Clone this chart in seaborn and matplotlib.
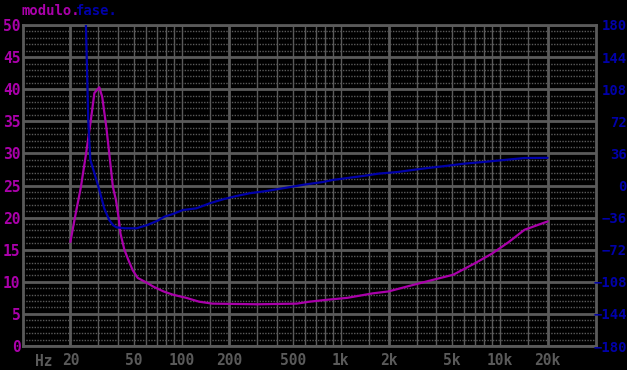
import numpy as np
import pandas as pd
import matplotlib
matplotlib.use('Agg')
import matplotlib.pyplot as plt
import seaborn as sns

# Curvas: modulo (escala esquerda) e fase (escala direita, graus)
freq_mod = [20, 21.2, 23.3, 25.1, 26.9, 28.3, 30.4, 31.7, 33.6, 35.1,
            37.0, 38.7, 40.2, 41.3, 43.7, 46.3, 49.3, 53, 60, 67,
            77, 88, 107, 129, 156, 300, 530, 636, 820, 1100,
            1590, 2000, 2840, 3800, 5100, 7000, 8950, 11400, 14300, 20000]
modulo = [16.2, 19.6, 24.8, 30.0, 35.2, 39.4, 40.3, 38.8, 34.2, 30.0,
          24.8, 22.7, 20.0, 17.5, 15.0, 13.4, 11.8, 10.6, 9.9, 9.2,
          8.5, 8.0, 7.5, 6.9, 6.6, 6.5, 6.6, 6.9, 7.2, 7.5,
          8.2, 8.5, 9.5, 10.3, 11.1, 12.9, 14.4, 16.2, 18.1, 19.4]

freq_fase = [25.0, 25.3, 25.9, 26.7, 28.3, 30.4, 32.7, 35.1, 37.0, 39.0,
             44, 52, 61, 70.6, 78, 88, 102, 124, 150, 182,
             221, 268, 341, 454, 606, 773, 890, 1104, 1382, 1730,
             2271, 2827, 3520, 4726, 5898, 7920, 10630, 14270, 20000]
fase = [185, 148.6, 73.5, 28.6, 14, -5, -26, -38.7, -44.3, -46.9,
        -48, -48, -44.3, -39.5, -35, -32, -27.5, -25.6, -20, -15.5,
        -11.8, -8.7, -6.2, -2.5, 1.3, 3.9, 6.2, 8.4, 10.7, 13.3,
        15.1, 17.4, 19.6, 22.2, 24.4, 26.4, 28.6, 30.8, 31.0]

x_ticks = [20, 50, 100, 200, 500, 1000, 2000, 5000, 10000, 20000]
x_labels = ['20', '50', '100', '200', '500', '1k', '2k', '5k', '10k', '20k']
mod_ticks = list(range(0, 51, 5))
fase_ticks = list(range(-180, 181, 36))

MAG = '#aa00aa'
BLU = '#0000aa'
GRY = '#5a5a5a'

sns.set_theme(style='dark', rc={'axes.facecolor': 'black', 'figure.facecolor': 'black'})
plt.rcParams['font.family'] = ['DejaVu Sans Mono']
plt.rcParams['font.weight'] = 'bold'

df_mod = pd.DataFrame({'freq': freq_mod, 'modulo': modulo})
df_fase = pd.DataFrame({'freq': freq_fase, 'fase': fase})

fig = plt.figure(figsize=(6.27, 3.70), dpi=100)
ax = fig.add_axes([22.5 / 627, 24 / 370, 573 / 627, 321 / 370])
ax.set_xscale('log')
ax.set_xlim(10, 40000)
ax.set_ylim(0, 50)

# grade
thick_x = [20, 200, 2000, 20000]
thin_x = [30, 40, 50, 60, 70, 80, 90, 100, 150,
          300, 400, 500, 600, 700, 800, 900, 1000, 1500,
          3000, 4000, 5000, 6000, 7000, 8000, 9000, 10000, 15000]
for v in thin_x:
    ax.axvline(v, color=GRY, lw=1, zorder=1)
for v in thick_x:
    ax.axvline(v, color=GRY, lw=2, zorder=1)
for h in range(0, 51):
    if h % 5 == 0:
        ax.axhline(h, color=GRY, lw=2, zorder=1)
    else:
        ax.axhline(h, color=GRY, lw=1, ls=(0, (1, 1)), zorder=1)

sns.lineplot(data=df_mod, x='freq', y='modulo', ax=ax, color=MAG, lw=1.6, sort=False, zorder=3)

ax.set_xticks(x_ticks)
ax.set_xticklabels(x_labels)
ax.xaxis.set_minor_locator(matplotlib.ticker.NullLocator())
ax.set_yticks(mod_ticks)
ax.set_xlabel('')
ax.set_ylabel('')
ax.tick_params(axis='x', colors=GRY, labelsize=10.5, pad=5, length=0)
ax.tick_params(axis='y', colors=MAG, labelsize=10.5, pad=1.5, length=0)
for s in ax.spines.values():
    s.set_color(GRY)
    s.set_linewidth(2)
    s.set_visible(True)

ax2 = ax.twinx()
sns.lineplot(data=df_fase, x='freq', y='fase', ax=ax2, color=BLU, lw=1.6, sort=False, zorder=3)
ax2.set_ylim(-180, 180)
ax2.set_yticks(fase_ticks)
ax2.set_ylabel('')
ax2.tick_params(axis='y', colors=BLU, labelsize=10, pad=22.5, length=0)
for lab in ax2.get_yticklabels():
    lab.set_horizontalalignment('right')
ax2.grid(False)
for s in ax2.spines.values():
    s.set_visible(False)

fig.text(44 / 627, 1 - 361 / 370, 'Hz', color=GRY, fontsize=10.5, ha='center', va='center')
fig.text(21 / 627, 1 - 11 / 370, 'modulo.', color=MAG, fontsize=10, ha='left', va='center')
fig.text(76 / 627, 1 - 11 / 370, 'fase.', color=BLU, fontsize=10, ha='left', va='center')

fig.savefig('out.png', dpi=100, facecolor='black')
